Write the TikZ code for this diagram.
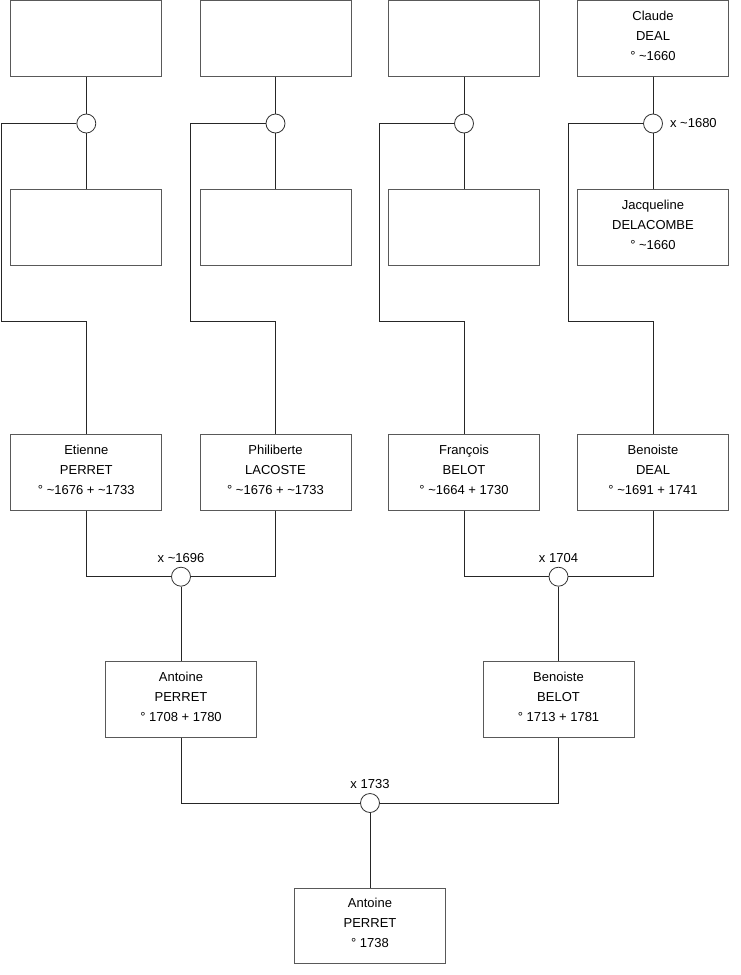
\documentclass[tikz,border=0pt]{standalone}
\usepackage{fontspec}
\setmainfont{Liberation Sans}
\newcommand{\tl}{\textasciitilde}
\begin{document}
\begin{tikzpicture}[x=1pt,y=-1pt,
  person/.style={draw=black!65, line width=0.9pt, fill=white, minimum width=151pt, minimum height=75.5pt, inner sep=0pt},
  ptext/.style={align=center, font=\fontsize{13}{20}\selectfont, text height=49.3pt, text depth=0pt, inner sep=0pt, yshift=2.5pt},
  union/.style={circle, draw=black!80, line width=0.8pt, fill=white, minimum size=19pt, inner sep=0pt},
  link/.style={draw=black!85, line width=0.9pt},
  lbl/.style={font=\fontsize{13}{15}\selectfont, inner sep=0pt}]
\useasboundingbox (0,0) rectangle (740,975);
% top row
\node[person] (a1) at (86.3,38.3) {};
\node[person] (a2) at (275.5,38.3) {};
\node[person] (a3) at (464,38.3) {};
\node[person, label={[ptext]center:Claude\\DEAL\\° \tl1660}] (a4) at (653,38.3) {};
% second row
\node[person] (b1) at (86.3,227.3) {};
\node[person] (b2) at (275.5,227.3) {};
\node[person] (b3) at (464,227.3) {};
\node[person, label={[ptext]center:Jacqueline\\DELACOMBE\\° \tl1660}] (b4) at (653,227.3) {};
% unions top
\node[union] (u1) at (86.3,123.5) {};
\node[union] (u2) at (275.5,123.5) {};
\node[union] (u3) at (464,123.5) {};
\node[union] (u4) at (653,123.5) {};
\node[lbl, anchor=west] (l4) at ([xshift=7pt]u4.east) {x \tl1680};
% third row
\node[person, label={[ptext]center:Etienne\\PERRET\\° \tl1676 + \tl1733}] (e1) at (86.3,472.5) {};
\node[person, label={[ptext]center:Philiberte\\LACOSTE\\° \tl1676 + \tl1733}] (e2) at (275.5,472.5) {};
\node[person, label={[ptext]center:François\\BELOT\\° \tl1664 + 1730}] (e3) at (464,472.5) {};
\node[person, label={[ptext]center:Benoiste\\DEAL\\° \tl1691 + 1741}] (e4) at (653,472.5) {};
% unions middle
\node[union] (v1) at (181,576.7) {};
\node[union] (v2) at (558.5,576.7) {};
\node[lbl, anchor=base] (m1) at ([yshift=4.7pt]v1.north) {x \tl1696};
\node[lbl, anchor=base] (m2) at ([yshift=4.7pt]v2.north) {x 1704};
% fourth row
\node[person, label={[ptext]center:Antoine\\PERRET\\° 1708 + 1780}] (f1) at (181,699.3) {};
\node[person, label={[ptext]center:Benoiste\\BELOT\\° 1713 + 1781}] (f2) at (558.5,699.3) {};
% bottom union
\node[union] (w) at (370,803) {};
\node[lbl, anchor=base] (n1) at ([yshift=4.7pt]w.north) {x 1733};
% bottom
\node[person, label={[ptext]center:Antoine\\PERRET\\° 1738}] (g) at (370,925.8) {};
% connectors top
\foreach \i in {1,2,3,4}{
  \draw[link] (a\i.south) -- (u\i.north);
  \draw[link] (u\i.south) -- (b\i.north);
}
\draw[link] (u1.west) -| (1.7,321.7) -| (e1.north);
\draw[link] (u2.west) -| (190.7,321.7) -| (e2.north);
\draw[link] (u3.west) -| (379.3,321.7) -| (e3.north);
\draw[link] (u4.west) -| (568.7,321.7) -| (e4.north);
% middle
\draw[link] (e1.south) |- (v1.west);
\draw[link] (e2.south) |- (v1.east);
\draw[link] (e3.south) |- (v2.west);
\draw[link] (e4.south) |- (v2.east);
\draw[link] (v1.south) -- (f1.north);
\draw[link] (v2.south) -- (f2.north);
% bottom
\draw[link] (f1.south) |- (w.west);
\draw[link] (f2.south) |- (w.east);
\draw[link] (w.south) -- (g.north);
\end{tikzpicture}
\end{document}
